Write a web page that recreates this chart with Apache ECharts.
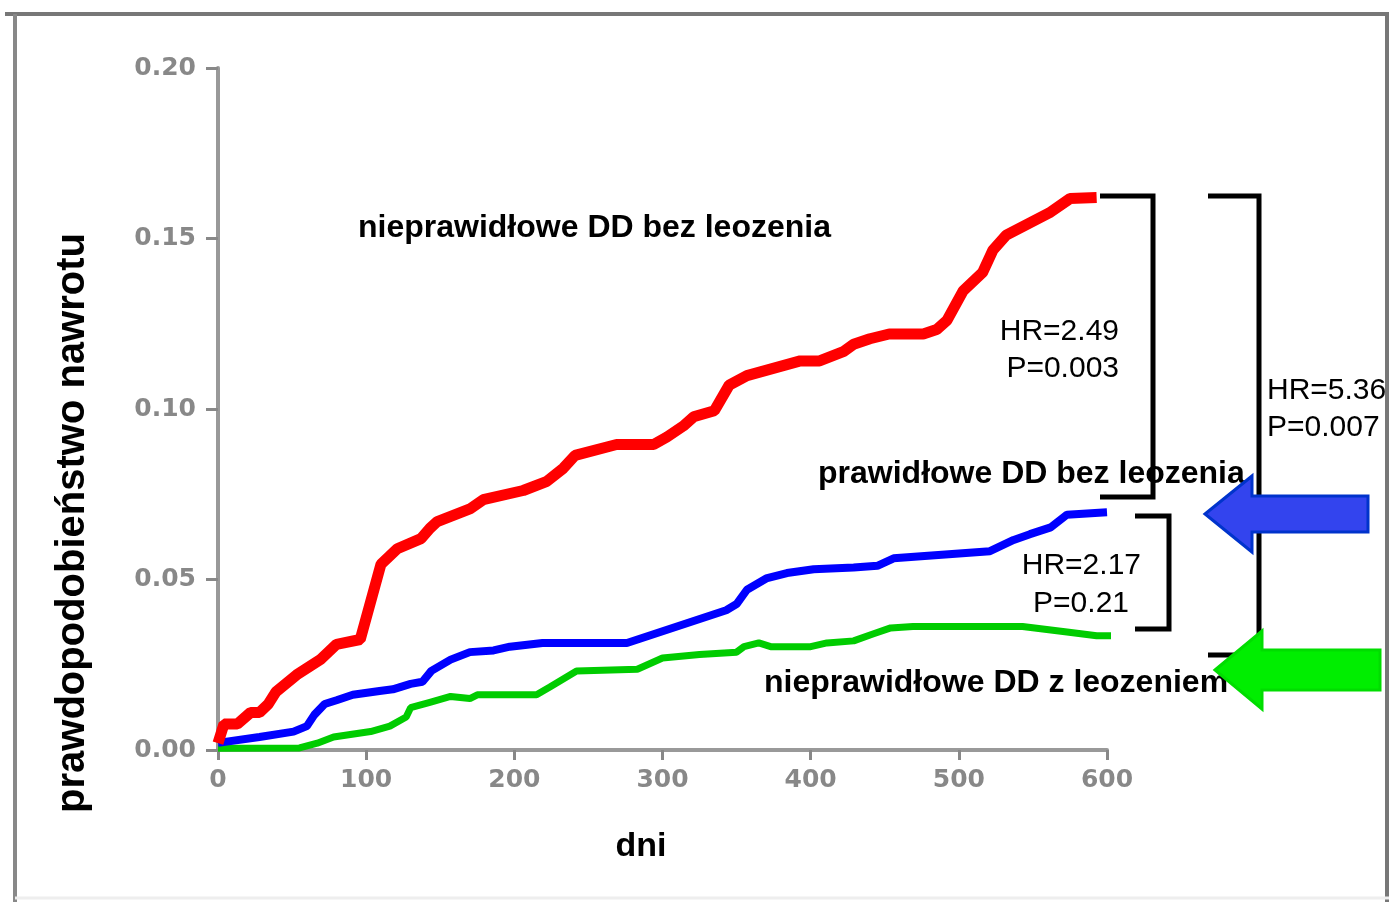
<!DOCTYPE html>
<html>
<head>
<meta charset="utf-8">
<script src="https://cdn.jsdelivr.net/npm/echarts@6/dist/echarts.min.js"></script>
<style>
html,body{margin:0;padding:0;background:#fff;}
#chart{width:1389px;height:902px;}
</style>
</head>
<body>
<div id="chart"></div>
<script>
// ---- data ----
const xTicks = [0, 100, 200, 300, 400, 500, 600];
const yTicks = [0.00, 0.05, 0.10, 0.15, 0.20];

const redDays  = [0, 4, 13, 22, 28, 34, 39, 53, 69, 80, 96, 110, 121, 137, 143, 148, 170, 179, 206, 222, 233, 241, 269, 294, 303, 314, 321, 335, 345, 357, 393, 406, 422, 429, 440, 453, 476, 485, 492, 503, 516, 523, 532, 561, 575, 593];
const redProb  = [0.002, 0.0076, 0.0076, 0.011, 0.011, 0.0135, 0.017, 0.022, 0.0265, 0.031, 0.0324, 0.0545, 0.059, 0.062, 0.065, 0.067, 0.0707, 0.0734, 0.0761, 0.0788, 0.0826, 0.0864, 0.0896, 0.0896, 0.0918, 0.095, 0.0977, 0.0995, 0.107, 0.1098, 0.1141, 0.1141, 0.1168, 0.119, 0.1206, 0.122, 0.122, 0.1233, 0.126, 0.1347, 0.140, 0.1466, 0.151, 0.1575, 0.1617, 0.162];

const blueDays = [0, 28, 51, 60, 65, 72, 80, 91, 109, 118, 130, 138, 144, 157, 170, 186, 197, 219, 276, 343, 350, 357, 370, 384, 402, 429, 445, 456, 521, 537, 548, 562, 573, 600];
const blueProb = [0.0021, 0.0038, 0.0054, 0.007, 0.0103, 0.0135, 0.0146, 0.0162, 0.0173, 0.0178, 0.0194, 0.02, 0.0232, 0.0265, 0.0287, 0.0292, 0.0303, 0.0314, 0.0314, 0.041, 0.0428, 0.047, 0.0503, 0.0519, 0.053, 0.0535, 0.054, 0.0562, 0.0583, 0.0616, 0.0633, 0.0653, 0.069, 0.0697];

const greenDays = [0, 55, 67, 78, 103, 116, 127, 130, 143, 157, 170, 175, 215, 224, 242, 283, 300, 325, 350, 355, 365, 373, 400, 411, 429, 442, 454, 469, 543, 573, 593, 614];
const greenProb = [0.0005, 0.0006, 0.002, 0.0038, 0.0054, 0.007, 0.0097, 0.0124, 0.014, 0.0157, 0.0151, 0.0162, 0.0162, 0.0185, 0.0232, 0.0237, 0.027, 0.028, 0.0287, 0.0303, 0.0314, 0.0303, 0.0303, 0.0314, 0.032, 0.034, 0.0358, 0.0362, 0.0362, 0.0346, 0.0335, 0.0335];

const groupLabels = ['nieprawidłowe DD bez leozenia', 'prawidłowe DD bez leozenia', 'nieprawidłowe DD z leozeniem'];
const xTitle = 'dni';
const yTitle = 'prawdopodobieństwo nawrotu';
const stats = [['HR=2.49', 'P=0.003'], ['HR=2.17', 'P=0.21'], ['HR=5.36', 'P=0.007']];

const pairs = (xs, ys) => xs.map((x, i) => [x, ys[i]]);

const chart = echarts.init(document.getElementById('chart'));

const boldFont = '"Liberation Sans", Arial, sans-serif';
const black = '#000';

function bracket(x1, x2, yTop, yBot) {
  return {
    type: 'polyline', z: 10,
    shape: { points: [[x1, yTop], [x2, yTop], [x2, yBot], [x1, yBot]] },
    style: { stroke: black, lineWidth: 5, fill: null }
  };
}
function label(text, x, y, size, weight, align, rot) {
  return {
    type: 'text', z: 20, x: x, y: y, rotation: rot || 0,
    style: { text: text, fill: black, font: weight + ' ' + size + 'px ' + boldFont, textAlign: align || 'left', textVerticalAlign: 'middle' }
  };
}
function arrow(tipX, tipY, headX, headHalf, shaftHalf, endX, fill, stroke) {
  return {
    type: 'polygon', z: 30,
    shape: { points: [[tipX, tipY], [headX, tipY - headHalf], [headX, tipY - shaftHalf], [endX, tipY - shaftHalf], [endX, tipY + shaftHalf], [headX, tipY + shaftHalf], [headX, tipY + headHalf]] },
    style: { fill: fill, stroke: stroke, lineWidth: 3 }
  };
}

const option = {
  animation: false,
  backgroundColor: '#fff',
  grid: { left: 218, right: 282, top: 68, bottom: 152, containLabel: false },
  xAxis: {
    type: 'value', min: 0, max: 600, interval: 100,
    axisLine: { show: true, lineStyle: { color: '#999', width: 4 } },
    axisTick: { show: true, length: 10, lineStyle: { color: '#888', width: 3 } },
    axisLabel: { color: '#888', fontFamily: '"DejaVu Sans"', fontWeight: 'bold', fontSize: 25, margin: 18,
      formatter: v => xTicks.includes(v) ? String(v) : '' },
    splitLine: { show: false }
  },
  yAxis: {
    type: 'value', min: 0, max: 0.2, interval: 0.05,
    axisLine: { show: true, lineStyle: { color: '#999', width: 4 } },
    axisTick: { show: true, length: 12, lineStyle: { color: '#888', width: 3 } },
    axisLabel: { color: '#888', fontFamily: '"DejaVu Sans"', fontWeight: 'bold', fontSize: 25, margin: 22,
      formatter: v => yTicks.some(t => Math.abs(t - v) < 1e-9) ? v.toFixed(2) : '' },
    splitLine: { show: false }
  },
  series: [
    { type: 'line', name: groupLabels[2], data: pairs(greenDays, greenProb), showSymbol: false, clip: false,
      lineStyle: { color: '#00cc00', width: 7 }, z: 3 },
    { type: 'line', name: groupLabels[1], data: pairs(blueDays, blueProb), showSymbol: false, clip: false,
      lineStyle: { color: '#0000ff', width: 8 }, z: 4 },
    { type: 'line', name: groupLabels[0], data: pairs(redDays, redProb), showSymbol: false, clip: false,
      lineStyle: { color: '#ff0000', width: 11 }, z: 5 }
  ],
  graphic: [
    // frame
    { type: 'line', shape: { x1: 5, y1: 14, x2: 1389, y2: 14 }, style: { stroke: '#777', lineWidth: 4 } },
    { type: 'line', shape: { x1: 15, y1: 14, x2: 15, y2: 902 }, style: { stroke: '#888', lineWidth: 4 } },
    { type: 'line', shape: { x1: 1387, y1: 14, x2: 1387, y2: 902 }, style: { stroke: '#777', lineWidth: 4 } },
    { type: 'line', shape: { x1: 15, y1: 898, x2: 1389, y2: 898 }, style: { stroke: '#eee', lineWidth: 3 } },
    // brackets
    bracket(1100, 1153, 196, 497),
    bracket(1135, 1169, 516, 629),
    bracket(1208, 1259, 196, 655),
    // titles and labels
    label(yTitle, 73, 523, 40, 'bold', 'center', Math.PI / 2),
    label(groupLabels[0], 358, 228, 32, 'bold'),
    label(groupLabels[1], 818, 474, 32, 'bold'),
    label(groupLabels[2], 764, 683, 32, 'bold'),
    label(xTitle, 641, 847, 34, 'bold', 'center'),
    label(stats[0][0], 1119, 332, 30, 'normal', 'right'),
    label(stats[0][1], 1119, 369, 30, 'normal', 'right'),
    label(stats[1][0], 1141, 566, 30, 'normal', 'right'),
    label(stats[1][1], 1129, 604, 30, 'normal', 'right'),
    label(stats[2][0], 1267, 391, 30, 'normal', 'left'),
    label(stats[2][1], 1267, 428, 30, 'normal', 'left'),
    // arrows
    arrow(1205, 514, 1252, 38, 18, 1368, '#3344ee', '#0033cc'),
    arrow(1215, 670, 1262, 39, 20, 1380, '#00ee00', '#00dd00')
  ]
};
chart.setOption(option);
</script>
</body>
</html>
